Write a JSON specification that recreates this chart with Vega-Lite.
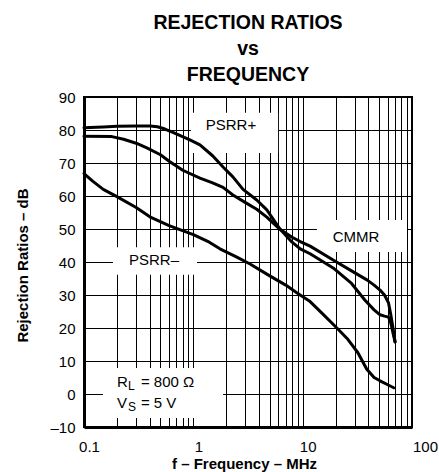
{
  "$schema": "https://vega.github.io/schema/vega-lite/v6.json",
  "autosize": {"type": "none"},
  "width": 328,
  "height": 330,
  "padding": {"left": 84, "top": 97, "right": 27, "bottom": 45},
  "title": {
    "text": ["REJECTION RATIOS", "vs", "FREQUENCY"],
    "font": "Liberation Sans",
    "fontSize": 19.5,
    "fontWeight": "bold",
    "lineHeight": 26,
    "offset": 5,
    "anchor": "middle",
    "color": "black"
  },
  "config": {
    "font": "Liberation Sans",
    "view": {"stroke": "black", "strokeWidth": 2}
  },
  "datasets": {
    "curves": [
      {"s": "PSRR+", "f": 0.1, "db": 80.7},
      {"s": "PSRR+", "f": 0.15, "db": 80.9},
      {"s": "PSRR+", "f": 0.2, "db": 81.1},
      {"s": "PSRR+", "f": 0.3, "db": 81.2},
      {"s": "PSRR+", "f": 0.4, "db": 81.2},
      {"s": "PSRR+", "f": 0.47, "db": 81},
      {"s": "PSRR+", "f": 0.55, "db": 80.3},
      {"s": "PSRR+", "f": 0.65, "db": 79.3},
      {"s": "PSRR+", "f": 0.76, "db": 78.3},
      {"s": "PSRR+", "f": 0.93, "db": 77},
      {"s": "PSRR+", "f": 1.15, "db": 75.5},
      {"s": "PSRR+", "f": 1.5, "db": 72.2},
      {"s": "PSRR+", "f": 1.87, "db": 68.8},
      {"s": "PSRR+", "f": 2.3, "db": 65.8},
      {"s": "PSRR+", "f": 2.85, "db": 62},
      {"s": "PSRR+", "f": 3.8, "db": 58.8},
      {"s": "PSRR+", "f": 4.7, "db": 55.8},
      {"s": "PSRR+", "f": 6.2, "db": 50},
      {"s": "PSRR+", "f": 8, "db": 46},
      {"s": "PSRR+", "f": 9.5, "db": 44},
      {"s": "PSRR+", "f": 11.7, "db": 42.5},
      {"s": "PSRR+", "f": 19, "db": 38.2},
      {"s": "PSRR+", "f": 28, "db": 33.5},
      {"s": "PSRR+", "f": 37, "db": 28.5},
      {"s": "PSRR+", "f": 45, "db": 25.5},
      {"s": "PSRR+", "f": 51, "db": 24},
      {"s": "PSRR+", "f": 56, "db": 23.6},
      {"s": "PSRR+", "f": 61, "db": 23.3},
      {"s": "PSRR+", "f": 64, "db": 21.5},
      {"s": "PSRR+", "f": 67, "db": 18.5},
      {"s": "PSRR+", "f": 70, "db": 15.8},
      {"s": "CMMR", "f": 0.1, "db": 78.1},
      {"s": "CMMR", "f": 0.18, "db": 78},
      {"s": "CMMR", "f": 0.23, "db": 77.2},
      {"s": "CMMR", "f": 0.3, "db": 76},
      {"s": "CMMR", "f": 0.38, "db": 74.5},
      {"s": "CMMR", "f": 0.5, "db": 72.5},
      {"s": "CMMR", "f": 0.61, "db": 70.4},
      {"s": "CMMR", "f": 0.8, "db": 67.8},
      {"s": "CMMR", "f": 1.15, "db": 65.4},
      {"s": "CMMR", "f": 1.5, "db": 64},
      {"s": "CMMR", "f": 1.87, "db": 62.6},
      {"s": "CMMR", "f": 2.3, "db": 60.3},
      {"s": "CMMR", "f": 3, "db": 58},
      {"s": "CMMR", "f": 3.8, "db": 56},
      {"s": "CMMR", "f": 4.7, "db": 53.6},
      {"s": "CMMR", "f": 6.2, "db": 49.9},
      {"s": "CMMR", "f": 8, "db": 47.5},
      {"s": "CMMR", "f": 9.5, "db": 46.2},
      {"s": "CMMR", "f": 11.7, "db": 44.8},
      {"s": "CMMR", "f": 19, "db": 40.6},
      {"s": "CMMR", "f": 28, "db": 37.3},
      {"s": "CMMR", "f": 39, "db": 34.5},
      {"s": "CMMR", "f": 45, "db": 33},
      {"s": "CMMR", "f": 51, "db": 31.5},
      {"s": "CMMR", "f": 56, "db": 30},
      {"s": "CMMR", "f": 61, "db": 27.6},
      {"s": "CMMR", "f": 64, "db": 24},
      {"s": "CMMR", "f": 67, "db": 20},
      {"s": "CMMR", "f": 70, "db": 15.8},
      {"s": "PSRR-", "f": 0.1, "db": 66.8},
      {"s": "PSRR-", "f": 0.12, "db": 64.5},
      {"s": "PSRR-", "f": 0.15, "db": 62},
      {"s": "PSRR-", "f": 0.2, "db": 59.8},
      {"s": "PSRR-", "f": 0.3, "db": 56.5},
      {"s": "PSRR-", "f": 0.4, "db": 53.7},
      {"s": "PSRR-", "f": 0.6, "db": 51},
      {"s": "PSRR-", "f": 1, "db": 48.3},
      {"s": "PSRR-", "f": 1.4, "db": 46},
      {"s": "PSRR-", "f": 1.75, "db": 44},
      {"s": "PSRR-", "f": 2.5, "db": 41.5},
      {"s": "PSRR-", "f": 3.3, "db": 39.4},
      {"s": "PSRR-", "f": 5, "db": 35.8},
      {"s": "PSRR-", "f": 7, "db": 33},
      {"s": "PSRR-", "f": 8.9, "db": 30.6},
      {"s": "PSRR-", "f": 11.7, "db": 28},
      {"s": "PSRR-", "f": 15, "db": 24.5},
      {"s": "PSRR-", "f": 21, "db": 19.7},
      {"s": "PSRR-", "f": 26, "db": 16.5},
      {"s": "PSRR-", "f": 32, "db": 12.5},
      {"s": "PSRR-", "f": 38.6, "db": 7.5},
      {"s": "PSRR-", "f": 45, "db": 5},
      {"s": "PSRR-", "f": 51, "db": 4},
      {"s": "PSRR-", "f": 60, "db": 2.8},
      {"s": "PSRR-", "f": 68, "db": 1.9}
    ],
    "boxes": [
      {"f": 0.95, "f2": 5.96, "db": 73, "db2": 85.2},
      {"f": 13.5, "f2": 90, "db": 43, "db2": 52.7},
      {"f": 0.184, "f2": 1.08, "db": 36.1, "db2": 44.5},
      {"f": 0.149, "f2": 1.87, "db": -7.3, "db2": 7.9}
    ],
    "names": [
      {"f": 2.21, "db": 81.5, "t": "PSRR+"},
      {"f": 30.8, "db": 47.6, "t": "CMMR"},
      {"f": 0.437, "db": 40.6, "t": "PSRR–"}
    ],
    "mains": [
      {"f": 0.2, "db": 3.6, "t": "R"},
      {"f": 0.2, "db": -2.6, "t": "V"}
    ],
    "subs": [
      {"f": 0.2, "db": 3.6, "t": "L"},
      {"f": 0.2, "db": -2.6, "t": "S"}
    ],
    "eqs": [
      {"f": 0.2, "db": 3.6, "t": "= 800 Ω"},
      {"f": 0.2, "db": -2.6, "t": "= 5 V"}
    ]
  },
  "encoding": {
    "x": {
      "field": "f",
      "type": "quantitative",
      "scale": {"type": "log", "domain": [0.1, 100], "nice": false},
      "axis": {
        "title": "f – Frequency – MHz",
        "titleFont": "Liberation Sans",
        "titleFontSize": 15,
        "titleFontWeight": "bold",
        "titleColor": "black",
        "titleBaseline": "top",
        "titleY": 29,
        "titleX": 160,
        "values": [0.1, 0.2, 0.3, 0.4, 0.5, 0.6, 0.7, 0.8, 0.9, 1, 2, 3, 4, 5, 6, 7, 8, 9, 10, 20, 30, 40, 50, 60, 70, 80, 90, 100],
        "labelExpr": "datum.value == 0.1 ? '0.1' : datum.value == 1 ? '1' : datum.value == 10 ? '10' : datum.value == 100 ? '100' : ''",
        "labelFont": "Liberation Sans",
        "labelFontSize": 15,
        "labelColor": "black",
        "labelPadding": 12,
        "labelOffset": {"condition": {"test": "datum.value == 100", "value": 13}, "value": 5},
        "labelOverlap": false,
        "labelBound": false,
        "labelFlush": false,
        "ticks": false,
        "tickSize": 0,
        "grid": true,
        "gridColor": "black",
        "gridWidth": 1,
        "gridOpacity": 1,
        "domain": true,
        "domainColor": "black",
        "domainWidth": 3
      }
    },
    "y": {
      "field": "db",
      "type": "quantitative",
      "scale": {"domain": [-10, 90], "nice": false, "zero": false},
      "axis": {
        "title": "Rejection Ratios – dB",
        "titleFont": "Liberation Sans",
        "titleFontSize": 15,
        "titleFontWeight": "bold",
        "titleColor": "black",
        "titleX": -54,
        "titleY": 168,
        "values": [-10, 0, 10, 20, 30, 40, 50, 60, 70, 80, 90],
        "labelExpr": "datum.value < 0 ? '–' + abs(datum.value) : '' + datum.value",
        "labelFont": "Liberation Sans",
        "labelFontSize": 15,
        "labelColor": "black",
        "labelPadding": 9,
        "labelOverlap": false,
        "labelBound": false,
        "labelFlush": false,
        "ticks": false,
        "tickSize": 0,
        "grid": true,
        "gridColor": "black",
        "gridWidth": 1,
        "gridOpacity": 1,
        "domain": true,
        "domainColor": "black",
        "domainWidth": 3
      }
    }
  },
  "layer": [
    {
      "data": {"name": "boxes"},
      "mark": {"type": "rect", "fill": "white", "strokeWidth": 0},
      "encoding": {"x2": {"field": "f2"}, "y2": {"field": "db2"}}
    },
    {
      "data": {"name": "curves"},
      "mark": {"type": "line", "stroke": "black", "strokeWidth": 3, "strokeJoin": "round", "strokeCap": "round"},
      "encoding": {"detail": {"field": "s"}}
    },
    {
      "data": {"name": "names"},
      "mark": {"type": "text", "font": "Liberation Sans", "fontSize": 15, "color": "black", "align": "center", "baseline": "middle"},
      "encoding": {"text": {"field": "t"}}
    },
    {
      "data": {"name": "mains"},
      "mark": {"type": "text", "font": "Liberation Sans", "fontSize": 15, "color": "black", "align": "left", "baseline": "middle"},
      "encoding": {"text": {"field": "t"}}
    },
    {
      "data": {"name": "subs"},
      "mark": {"type": "text", "font": "Liberation Sans", "fontSize": 12, "color": "black", "align": "left", "baseline": "middle", "dx": 11, "dy": 4},
      "encoding": {"text": {"field": "t"}}
    },
    {
      "data": {"name": "eqs"},
      "mark": {"type": "text", "font": "Liberation Sans", "fontSize": 15, "color": "black", "align": "left", "baseline": "middle", "dx": 24},
      "encoding": {"text": {"field": "t"}}
    }
  ]
}
